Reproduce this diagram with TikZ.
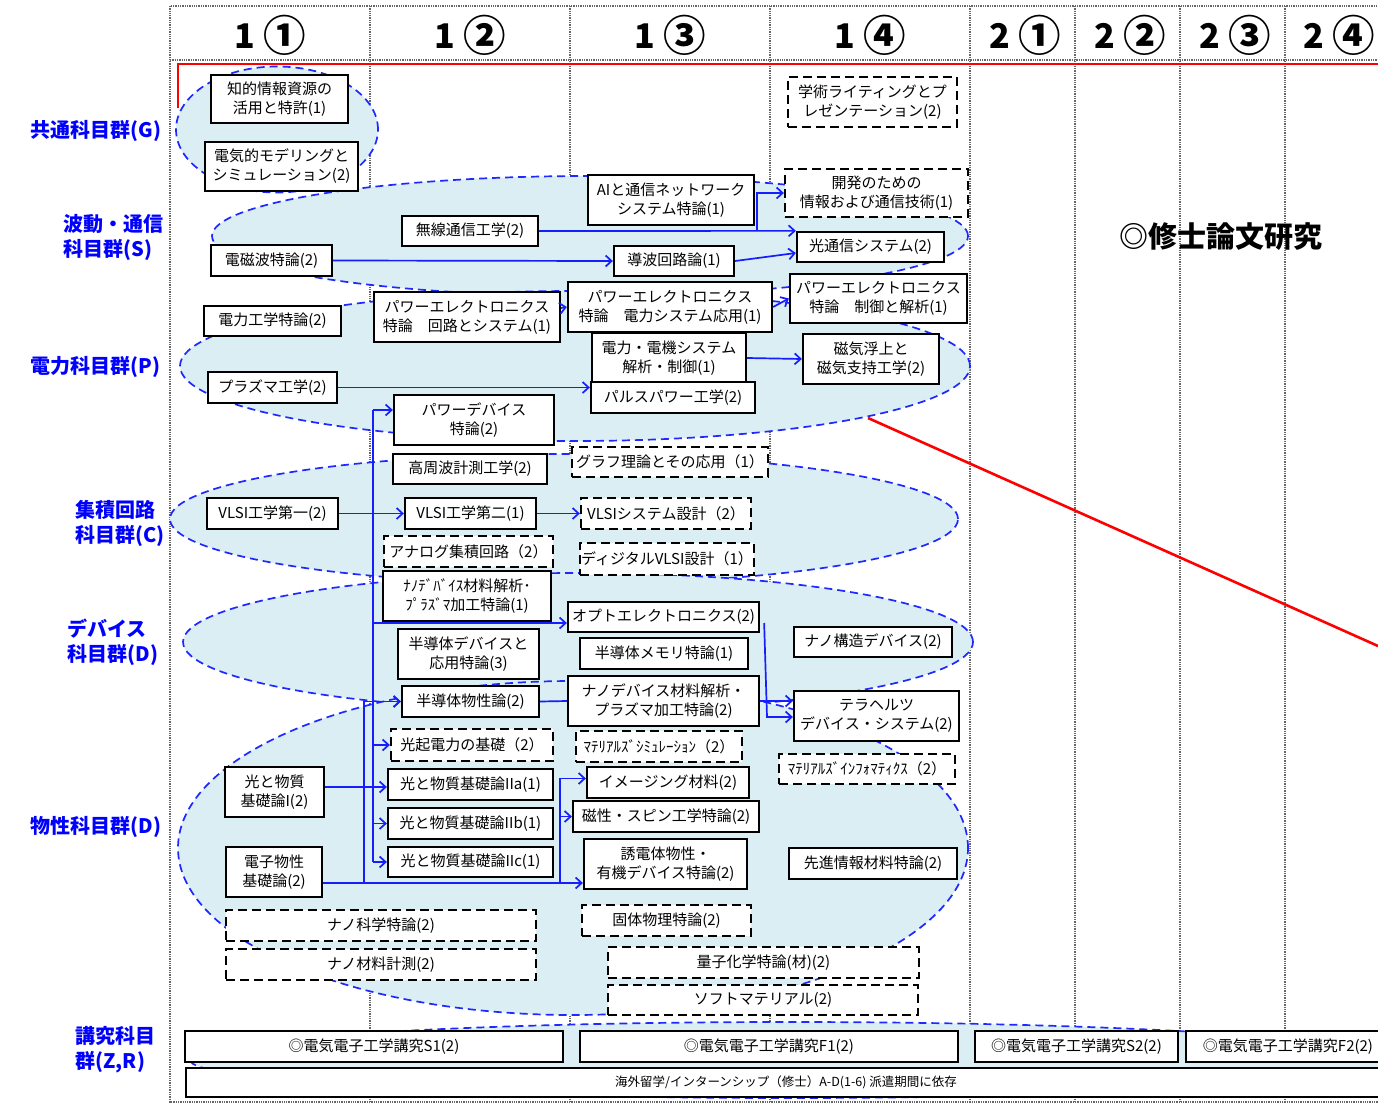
\documentclass[tikz,border=0pt]{standalone}
\usepackage{fontspec}
\usepackage{graphicx}
\setmainfont{Noto Sans CJK JP}
\usetikzlibrary{arrows.meta}
\definecolor{grpfill}{RGB}{218,238,243}
\definecolor{grpline}{RGB}{30,40,255}
\definecolor{flowblue}{RGB}{20,30,255}
\newcommand\cnum[1]{\raisebox{-0.08em}{\scalebox{1.25}{#1}}}
\tikzset{
  kbox/.style={draw,line width=2.3pt,fill=white,inner sep=0pt,align=center,font=\fontsize{15}{19}\selectfont},
  kdash/.style={kbox,dash pattern=on 9pt off 5pt},
  sz/.style 2 args={minimum width=#1,minimum height=#2},
  grp/.style={draw=grpline,dash pattern=on 8pt off 5pt,line width=1.7pt,fill=grpfill},
  flow/.style={draw=flowblue,line width=1.7pt,-{Straight Barb[length=6pt,width=11pt]}},
  bus/.style={draw=flowblue,line width=1.7pt},
  gridline/.style={draw=gray!80!black,densely dotted,line width=1.3pt},
  grplabel/.style={text=blue,font=\fontsize{20}{25}\selectfont\bfseries,align=left,anchor=west},
  term/.style={font=\fontsize{34}{36}\selectfont\bfseries}
}
\begin{document}
\begin{tikzpicture}[x=1pt,y=-1pt]
\clip (0,0) rectangle (1378,1110);
\fill[white] (0,0) rectangle (1378,1110);
% grid of terms
\draw[gridline] (170,6) rectangle (1390,1102);
\draw[gridline] (170,60) -- (1390,60);
\foreach \cx in {370,570,770,970,1075,1180,1285}
  \draw[gridline] (\cx,6) -- (\cx,1102);
\node[term] (h11) at (270,35) {1 \cnum{①}};
\node[term] (h12) at (470,35) {1 \cnum{②}};
\node[term] (h13) at (670,35) {1 \cnum{③}};
\node[term] (h14) at (870,35) {1 \cnum{④}};
\node[term] (h21) at (1025,35) {2 \cnum{①}};
\node[term] (h22) at (1130,35) {2 \cnum{②}};
\node[term] (h23) at (1235,35) {2 \cnum{③}};
\node[term] (h24) at (1339,35) {2 \cnum{④}};
% group labels
\node[grplabel] (lg) at (27,131) {共通科目群(G)};
\node[grplabel] (ls) at (60,237) {波動・通信\\科目群(S)};
\node[grplabel] (lp) at (27,367) {電力科目群(P)};
\node[grplabel] (lc) at (72,523) {集積回路\\科目群(C)};
\node[grplabel] (ld) at (64,642) {デバイス\\科目群(D)};
\node[grplabel] (lm) at (27,827) {物性科目群(D)};
\node[grplabel] (lz) at (72,1050) {講究科目\\群(Z,R)};
% groups
\draw[grp] (277,129.5) ellipse (101pt and 63pt);
\draw[grp] (590,236) ellipse (378pt and 60pt);
\draw[grp] (575,366) ellipse (395pt and 75pt);
\draw[grp] (564,519) ellipse (394pt and 65pt);
\draw[grp] (578,642) ellipse (395pt and 69pt);
\draw[grp] (573,848) ellipse (395pt and 167pt);
\draw[grp] (790,1060) ellipse (600pt and 38pt);
% red frame
\coordinate (rp) at (868,418);
\draw[red,line width=2.6pt] (178,108) -- (178,64) -- (1390,64);
\draw[red,line width=2.6pt] (rp) -- (1378,646);
\node[font=\fontsize{29}{32}\selectfont\bfseries] (thesis) at (1221,237) {◎修士論文研究};
% courses
\begin{scope}[every node/.style={kbox}]
    \node[sz={137}{48}] (kg1) at (279.5,99) {知的情報資源の\\活用と特許(1)};
    \node[sz={153}{49}] (kg2) at (281.5,166.5) {電気的モデリングと\\シミュレーション(2)};
    \node[kdash,sz={169}{50}] (kg3) at (872.5,102) {学術ライティングとプ\\レゼンテーション(2)};
    \node[sz={166}{50}] (ks1) at (671,200) {AIと通信ネットワーク\\システム特論(1)};
    \node[kdash,sz={183}{48}] (ks2) at (876.5,193) {開発のための\\情報および通信技術(1)};
    \node[sz={136}{30}] (ks3) at (470,231) {無線通信工学(2)};
    \node[sz={147}{30}] (ks4) at (870.5,247) {光通信システム(2)};
    \node[sz={121}{31}] (ks5) at (271.5,260.5) {電磁波特論(2)};
    \node[sz={120}{30}] (ks6) at (674,261) {導波回路論(1)};
    \node[sz={137}{30}] (kp1) at (272.5,321) {電力工学特論(2)};
    \node[sz={186}{50}] (kp2) at (467,317) {パワーエレクトロニクス\\特論　回路とシステム(1)};
    \node[sz={204}{50}] (kp3) at (670,307) {パワーエレクトロニクス\\特論　電力システム応用(1)};
    \node[sz={177}{49}] (kp4) at (878.5,298.5) {パワーエレクトロニクス\\特論　制御と解析(1)};
    \node[sz={154}{50}] (kp5) at (669,358) {電力・電機システム\\解析・制御(1)};
    \node[sz={136}{50}] (kp6) at (871,359) {磁気浮上と\\磁気支持工学(2)};
    \node[sz={129}{31}] (kp7) at (272.5,387.5) {プラズマ工学(2)};
    \node[sz={164}{31}] (kp8) at (673,397.5) {パルスパワー工学(2)};
    \node[sz={160}{50}] (kp9) at (474,420) {パワーデバイス\\特論(2)};
    \node[sz={154}{30}] (kc1) at (470,469) {高周波計測工学(2)};
    \node[kdash,sz={196}{30}] (kc2) at (670,462) {グラフ理論とその応用（1）};
    \node[sz={131}{31}] (kc3) at (272.5,513.5) {VLSI工学第一(2)};
    \node[sz={131}{31}] (kc4) at (470.5,513.5) {VLSI工学第二(1)};
    \node[kdash,sz={170}{31}] (kc5) at (666,513.5) {VLSIシステム設計（2）};
    \node[kdash,sz={169}{31}] (kc6) at (468.5,551.5) {アナログ集積回路（2）};
    \node[kdash,sz={174}{32}] (kc7) at (667,559) {ディジタルVLSI設計（1）};
    \node[sz={168}{50}] (kd1) at (467,596) {ﾅﾉﾃﾞﾊﾞｲｽ材料解析･\\ﾌﾟﾗｽﾞﾏ加工特論(1)};
    \node[sz={191}{30}] (kd2) at (663.5,617) {オプトエレクトロニクス(2)};
    \node[sz={158}{30}] (kd3) at (873,642) {ナノ構造デバイス(2)};
    \node[sz={141}{50}] (kd4) at (468.5,654) {半導体デバイスと\\応用特論(3)};
    \node[sz={168}{31}] (kd5) at (664,653.5) {半導体メモリ特論(1)};
    \node[sz={137}{31}] (km1) at (470.5,701.5) {半導体物性論(2)};
    \node[sz={191}{50}] (km2) at (663.5,701) {ナノデバイス材料解析・\\プラズマ加工特論(2)};
    \node[sz={165}{50}] (km3) at (876.5,716) {テラヘルツ\\デバイス・システム(2)};
    \node[kdash,sz={162}{32}] (km4) at (472,745) {光起電力の基礎（2）};
    \node[kdash,sz={166}{31}] (km5) at (659,746.5) {ﾏﾃﾘｱﾙｽﾞｼﾐｭﾚｰｼｮﾝ（2）};
    \node[kdash,sz={176}{30}] (km6) at (867,769) {ﾏﾃﾘｱﾙｽﾞｲﾝﾌｫﾏﾃｨｸｽ（2）};
    \node[sz={99}{50}] (km7) at (274.5,792) {光と物質\\基礎論I(2)};
    \node[sz={165}{31}] (km8) at (470.5,784.5) {光と物質基礎論IIa(1)};
    \node[sz={162}{31}] (km9) at (668,782.5) {イメージング材料(2)};
    \node[sz={165}{31}] (km10) at (470.5,823.5) {光と物質基礎論IIb(1)};
    \node[sz={186}{31}] (km11) at (666,816.5) {磁性・スピン工学特論(2)};
    \node[sz={96}{50}] (km12) at (274,872) {電子物性\\基礎論(2)};
    \node[sz={165}{30}] (km13) at (470.5,862) {光と物質基礎論IIc(1)};
    \node[sz={163}{50}] (km14) at (665.5,864) {誘電体物性・\\有機デバイス特論(2)};
    \node[sz={168}{31}] (km15) at (873,863.5) {先進情報材料特論(2)};
    \node[kdash,sz={310}{31}] (km16) at (381,925.5) {ナノ科学特論(2)};
    \node[kdash,sz={310}{31}] (km17) at (381,964.5) {ナノ材料計測(2)};
    \node[kdash,sz={169}{31}] (km18) at (666.5,920.5) {固体物理特論(2)};
    \node[kdash,sz={311}{31}] (km19) at (763.5,962.5) {量子化学特論(材)(2)};
    \node[kdash,sz={310}{30}] (km20) at (763,1000) {ソフトマテリアル(2)};
    \node[sz={378}{31},font=\fontsize{15}{18}\selectfont] (kz1) at (374,1046.5) {◎電気電子工学講究S1(2)};
    \node[sz={378}{31},font=\fontsize{15}{18}\selectfont] (kz2) at (769,1046.5) {◎電気電子工学講究F1(2)};
    \node[sz={203}{31},font=\fontsize{15}{18}\selectfont] (kz3) at (1076.5,1046.5) {◎電気電子工学講究S2(2)};
    \node[sz={204}{31},font=\fontsize{15}{18}\selectfont] (kz4) at (1288,1046.5) {◎電気電子工学講究F2(2)};
    \node[sz={1200}{29},font=\fontsize{12.5}{14}\selectfont] (kz5) at (786,1082.5) {海外留学/インターンシップ（修士）A-D(1-6) 派遣期間に依存};
\end{scope}
% prerequisite arrows
\coordinate (sb) at (757,231);
\draw[flow] (ks3.east) -- (ks4.north west);
\draw[flow] (sb) |- (ks2.west);
\draw[flow] (ks5.east) -- (ks6.west);
\draw[flow] (ks6.east) -- ([yshift=-6pt]ks4.west);
\draw[flow] ([yshift=9pt]kp2.east) -- (kp3.west);
\draw[flow] (kp3.east) -- (kp4.west);
\draw[flow] (kp5.east) -- (kp6.west);
\draw[flow] (kp7.east) -- (kp7.east -| kp8.west);
\draw[flow] (kc3.east) -- (kc4.west);
\draw[flow] (kc4.east) -- (kc5.west);
% device bus
\coordinate (b1) at (373,410);
\coordinate (b2) at (373,862);
\coordinate (b3) at (373,623);
\draw[bus] (b1) -- (b2);
\draw[flow] (b1) -- (b1 -| kp9.west);
\draw[flow] (b3) -- (b3 -| kd2.west);
\draw[flow] (b1 |- km1.west) -- (km1.west);
\draw[flow] (b1 |- km4.west) -- (km4.west);
\draw[flow] (b1 |- km10.west) -- (km10.west);
\draw[flow] (b2) -- (b2 -| km13.west);
\draw[flow] ([yshift=5pt]km7.east) -- ([yshift=5pt]km7.east -| km8.west);
% materials bus
\coordinate (e1) at (364,883);
\coordinate (e2) at (560,883);
\draw[flow] ([yshift=-11pt]km12.east) -- ([yshift=-11pt]km12.east -| km14.west);
\draw[flow] (e1) |- (km1.west);
\draw[flow] (e2) |- ([yshift=4pt]km9.west);
\draw[flow] (e2 |- km11.west) -- (km11.west);
\draw[bus] (km1.east) -- (km2.west);
\draw[flow] (km2.east) -- (km2.east -| km3.west);
\coordinate (tz) at (767,717);
\draw[flow] ([xshift=4pt,yshift=-6pt]kd2.east) -- (tz) -- (tz -| km3.west);
\end{tikzpicture}
\end{document}
